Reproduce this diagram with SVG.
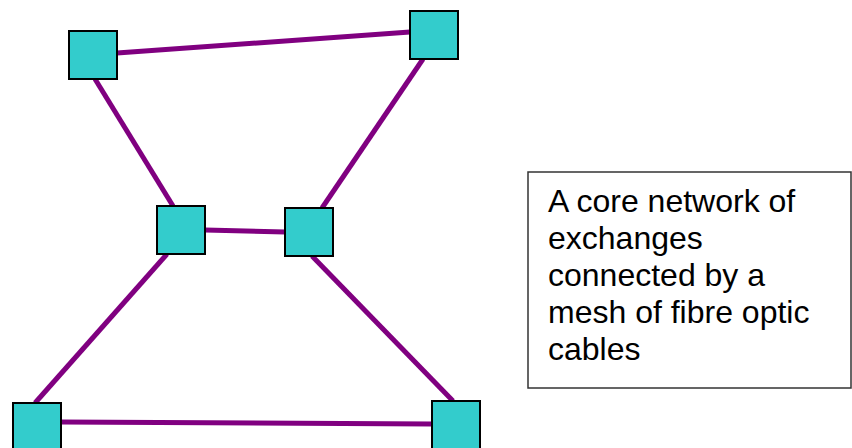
<svg xmlns="http://www.w3.org/2000/svg" width="852" height="448" viewBox="0 0 852 448">
<style>
.link{stroke:#800080;stroke-width:5;fill:none}
.node{fill:#33CCCC;stroke:#000;stroke-width:2}
.box{fill:#fff;stroke:#333;stroke-width:1.5}
.lbl{font-family:"Liberation Sans",Arial,sans-serif;font-size:32px;fill:#000}
</style>
<rect width="852" height="448" fill="#fff"/>
<g id="connectors">
<line class="link" x1="117" y1="53" x2="410" y2="32"/>
<line class="link" x1="95" y1="79" x2="173" y2="206"/>
<line class="link" x1="423" y1="59" x2="322" y2="208"/>
<line class="link" x1="205" y1="230" x2="285" y2="232"/>
<line class="link" x1="167" y1="254" x2="35" y2="403"/>
<line class="link" x1="312" y1="256" x2="453" y2="401"/>
<line class="link" x1="61" y1="422" x2="432" y2="424"/>
</g>
<g id="node-tl"><rect class="node" x="69" y="31" width="48" height="48"/></g>
<g id="node-tr"><rect class="node" x="410" y="11" width="48" height="48"/></g>
<g id="node-ml"><rect class="node" x="157" y="206" width="48" height="48"/></g>
<g id="node-mr"><rect class="node" x="285" y="208" width="48" height="48"/></g>
<g id="node-bl"><rect class="node" x="13" y="403" width="48" height="48"/></g>
<g id="node-br"><rect class="node" x="432" y="401" width="48" height="48"/></g>
<g id="caption">
<rect class="box" x="528" y="172" width="323" height="216"/>
<text class="lbl" x="548">
<tspan x="548" y="212">A core network of</tspan>
<tspan x="548" y="249">exchanges</tspan>
<tspan x="548" y="286">connected by a</tspan>
<tspan x="548" y="323">mesh of fibre optic</tspan>
<tspan x="548" y="360">cables</tspan>
</text>
</g>
</svg>
